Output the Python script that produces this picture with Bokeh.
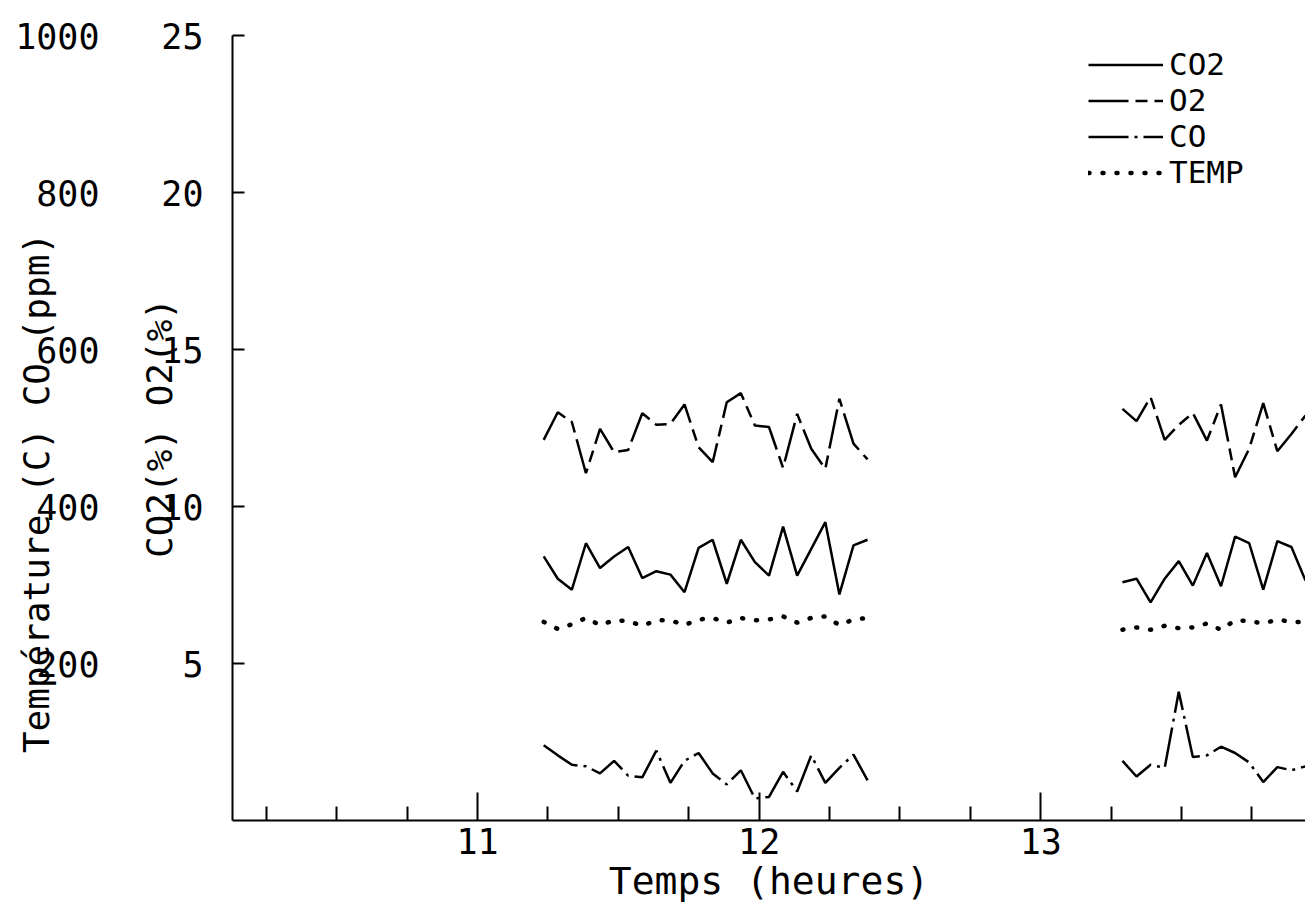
from bokeh.plotting import figure
from bokeh.models import (LinearAxis, Range1d, FixedTicker, Legend, LegendItem,
                          ColumnDataSource)
from bokeh.embed import file_html
from bokeh.resources import INLINE

# ---- data ----
t1 = [11.235, 11.285, 11.335, 11.385, 11.435, 11.485, 11.535, 11.585, 11.635, 11.685,
      11.735, 11.785, 11.835, 11.885, 11.935, 11.985, 12.035, 12.085, 12.135, 12.185,
      12.235, 12.285, 12.335, 12.385]
t2 = [13.29, 13.34, 13.39, 13.44, 13.49, 13.54, 13.59, 13.64, 13.69, 13.74,
      13.79, 13.84, 13.89, 13.94]

co2_1 = [8.41, 7.70, 7.35, 8.83, 8.04, 8.41, 8.71, 7.72, 7.94, 7.83, 7.27, 8.68,
         8.94, 7.54, 8.94, 8.23, 7.80, 9.36, 7.80, 8.65, 9.50, 7.20, 8.76, 8.94]
co2_2 = [7.59, 7.70, 6.95, 7.70, 8.26, 7.48, 8.52, 7.46, 9.04, 8.83, 7.35, 8.90,
         8.71, 7.64]

o2_1 = [12.12, 13.00, 12.69, 11.06, 12.47, 11.73, 11.80, 12.97, 12.60, 12.63, 13.25,
        11.89, 11.41, 13.32, 13.61, 12.58, 12.53, 11.23, 12.95, 11.84, 11.20, 13.43,
        12.00, 11.50]
o2_2 = [13.11, 12.72, 13.48, 12.12, 12.60, 12.98, 12.10, 13.25, 10.93, 11.84, 13.29,
        11.76, 12.31, 12.90]

co_1 = [96, 83, 71, 69, 60, 76, 57, 55, 89, 48, 76, 86, 60, 46, 64, 28, 30, 62, 37,
        83, 48, 67, 84, 51]          # ppm
co_2 = [76, 56, 71, 67, 164, 81, 83, 94, 86, 74, 49, 68, 64, 69]

temp_1 = [253, 244, 250, 258, 249, 255, 254, 248, 255, 255, 249, 256, 258, 252, 258,
          255, 256, 260, 252, 258, 260, 249, 256, 258]   # degrees C
temp_2 = [243, 246, 243, 248, 245, 246, 251, 243, 255, 254, 251, 256, 253, 253]

x_major = [11, 12, 13]
x_minor = [10.25, 10.5, 10.75, 11.25, 11.5, 11.75, 12.25, 12.5, 12.75, 13.25, 13.5, 13.75]
pct_ticks = [5, 10, 15, 20, 25]
ppm_ticks = [200, 400, 600, 800, 1000]

FONT = "DejaVu Sans Mono"
NAN = float("nan")

def joined(a, b):
    return list(a) + [NAN] + list(b)

src = ColumnDataSource(dict(
    t=joined(t1, t2),
    co2=joined(co2_1, co2_2),
    o2=joined(o2_1, o2_2),
    co=joined(co_1, co_2),
    temp=joined(temp_1, temp_2),
))

p = figure(width=1305, height=908, output_backend="svg", toolbar_location=None,
           x_range=Range1d(10.13, 13.94), y_range=Range1d(0, 25),
           y_axis_location=None,
           min_border_left=232, min_border_right=0, min_border_top=35,
           min_border_bottom=88)
p.extra_y_ranges = {"ppm": Range1d(0, 1000)}
p.outline_line_color = None
p.xgrid.visible = False
p.ygrid.visible = False
p.background_fill_color = "white"
p.border_fill_color = "white"

# x axis
xa = p.xaxis[0]
xa.ticker = FixedTicker(ticks=x_major, minor_ticks=x_minor)
xa.major_tick_in = 28
xa.major_tick_out = 0
xa.minor_tick_in = 14
xa.minor_tick_out = 0
xa.axis_line_width = 2
xa.major_tick_line_width = 2
xa.minor_tick_line_width = 2
xa.axis_line_color = "black"
xa.major_tick_line_color = "black"
xa.minor_tick_line_color = "black"
xa.major_label_text_font = FONT
xa.major_label_text_font_size = "35px"
xa.major_label_text_color = "black"
xa.major_label_standoff = 7
xa.axis_label = "Temps (heures)"
xa.axis_label_text_font = FONT
xa.axis_label_text_font_size = "38px"
xa.axis_label_text_font_style = "normal"
xa.axis_label_text_color = "black"
xa.axis_label_standoff = 2

# inner left axis (%)
ya = LinearAxis(ticker=FixedTicker(ticks=pct_ticks))
ya.major_tick_in = 12
ya.major_tick_out = 0
ya.minor_tick_line_color = None
ya.axis_line_width = 2
ya.major_tick_line_width = 2
ya.axis_line_color = "black"
ya.major_tick_line_color = "black"
ya.major_label_text_font = FONT
ya.major_label_text_font_size = "35px"
ya.major_label_text_color = "black"
ya.major_label_standoff = 29
ya.axis_label = "CO2(%) O2(%)"
ya.axis_label_text_font = FONT
ya.axis_label_text_font_size = "36px"
ya.axis_label_text_font_style = "normal"
ya.axis_label_text_color = "black"
ya.axis_label_standoff = -22
p.add_layout(ya, "left")

# outer left axis (ppm / C)
yb = LinearAxis(y_range_name="ppm", ticker=FixedTicker(ticks=ppm_ticks))
yb.axis_line_color = None
yb.major_tick_line_color = None
yb.minor_tick_line_color = None
yb.major_label_text_font = FONT
yb.major_label_text_font_size = "35px"
yb.major_label_text_color = "black"
yb.major_label_standoff = 31
yb.axis_label = "Température (C) CO (ppm)" + "\u00a0" * 6
yb.axis_label_text_font = FONT
yb.axis_label_text_font_size = "36px"
yb.axis_label_text_font_style = "normal"
yb.axis_label_text_color = "black"
yb.axis_label_standoff = -45
p.add_layout(yb, "left")

# series
r_co2 = p.line("t", "co2", source=src, line_color="black", line_width=2.5)
r_o2 = p.line("t", "o2", source=src, line_color="black", line_width=2.5,
              line_dash="40 7 12 7")
r_co = p.line("t", "co", source=src, y_range_name="ppm", line_color="black",
              line_width=2.5, line_dash="40 6 3 6")
r_temp = p.line("t", "temp", source=src, y_range_name="ppm", line_color="black",
                line_width=4.5, line_dash="1 13", line_cap="round")

legend = Legend(items=[
    LegendItem(label="CO2", renderers=[r_co2]),
    LegendItem(label="O2", renderers=[r_o2]),
    LegendItem(label="CO", renderers=[r_co]),
    LegendItem(label="TEMP", renderers=[r_temp]),
], location=(856, 630))
legend.border_line_color = None
legend.background_fill_alpha = 0
legend.padding = 0
legend.margin = 0
legend.spacing = 0
legend.glyph_width = 75
legend.glyph_height = 35
legend.label_height = 35
legend.label_standoff = 6
legend.label_text_font = FONT
legend.label_text_font_size = "31px"
legend.label_text_color = "black"
p.add_layout(legend)

open("out.html", "w").write(file_html(p, INLINE))
